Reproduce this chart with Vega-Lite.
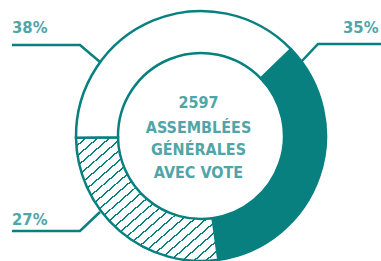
{
  "$schema": "https://vega.github.io/schema/vega-lite/v6.json",
  "width": 381,
  "height": 261,
  "autosize": {"type": "none"},
  "padding": 0,
  "background": "white",
  "config": {"view": {"stroke": null}},
  "datasets": {
    "parts": [
      {"label": "35%", "value": 35, "order": 1},
      {"label": "27%", "value": 27, "order": 2},
      {"label": "38%", "value": 38, "order": 3}
    ],
    "leaders": [
      {"label": "38%", "o": 1, "x": -1.512, "y": 0.728},
      {"label": "38%", "o": 2, "x": -0.968, "y": 0.728},
      {"label": "38%", "o": 3, "x": -0.808, "y": 0.592},
      {"label": "35%", "o": 1, "x": 1.46, "y": 0.736},
      {"label": "35%", "o": 2, "x": 0.936, "y": 0.736},
      {"label": "35%", "o": 3, "x": 0.8, "y": 0.592},
      {"label": "27%", "o": 1, "x": -1.512, "y": -0.76},
      {"label": "27%", "o": 2, "x": -0.968, "y": -0.76},
      {"label": "27%", "o": 3, "x": -0.808, "y": -0.608}
    ],
    "labels": [
      {"text": "38%", "x": -1.512, "y": 0.824, "a": "left"},
      {"text": "35%", "x": 1.42, "y": 0.824, "a": "right"},
      {"text": "27%", "x": -1.512, "y": -0.712, "a": "left"}
    ],
    "center": [
      {"text": "2597", "x": -0.02, "y": 0.224},
      {"text": "ASSEMBLÉES", "x": -0.02, "y": 0.024},
      {"text": "GÉNÉRALES", "x": -0.02, "y": -0.152},
      {"text": "AVEC VOTE", "x": -0.02, "y": -0.336}
    ]
  },
  "layer": [
    {
      "data": {"name": "parts"},
      "transform": [
        {"stack": "value", "groupby": [], "sort": [{"field": "order"}], "as": ["v0", "v1"]},
        {"filter": "datum.order === 1"}
      ],
      "mark": {"type": "arc", "outerRadius": 125, "innerRadius": 83, "fill": "#08807f", "stroke": "#08807f", "strokeWidth": 2.5},
      "encoding": {
        "theta": {"field": "v0", "type": "quantitative", "scale": {"domain": [0, 100], "range": [0.803, 7.086]}},
        "theta2": {"field": "v1"},
        "x": {"datum": 0, "type": "quantitative", "scale": {"domain": [-1.608, 1.44], "nice": false, "zero": false}, "axis": null},
        "y": {"datum": 0, "type": "quantitative", "scale": {"domain": [-1.0, 1.088], "nice": false, "zero": false}, "axis": null}
      }
    },
    {
      "data": {"name": "parts"},
      "transform": [
        {"stack": "value", "groupby": [], "sort": [{"field": "order"}], "as": ["v0", "v1"]},
        {"filter": "datum.order === 2"}
      ],
      "mark": {
        "type": "arc", "outerRadius": 125, "innerRadius": 83, "stroke": "#08807f", "strokeWidth": 2.5,
        "fill": {
          "gradient": "linear", "x1": 0, "y1": 0, "x2": 1, "y2": 1,
          "stops": [
            {"offset": 0, "color": "white"}, {"offset": 0.0342, "color": "white"}, {"offset": 0.0342, "color": "#08807f"}, {"offset": 0.0417, "color": "#08807f"},
            {"offset": 0.0417, "color": "white"}, {"offset": 0.0758, "color": "white"}, {"offset": 0.0758, "color": "#08807f"}, {"offset": 0.0833, "color": "#08807f"},
            {"offset": 0.0833, "color": "white"}, {"offset": 0.1175, "color": "white"}, {"offset": 0.1175, "color": "#08807f"}, {"offset": 0.125, "color": "#08807f"},
            {"offset": 0.125, "color": "white"}, {"offset": 0.1592, "color": "white"}, {"offset": 0.1592, "color": "#08807f"}, {"offset": 0.1667, "color": "#08807f"},
            {"offset": 0.1667, "color": "white"}, {"offset": 0.2008, "color": "white"}, {"offset": 0.2008, "color": "#08807f"}, {"offset": 0.2083, "color": "#08807f"},
            {"offset": 0.2083, "color": "white"}, {"offset": 0.2425, "color": "white"}, {"offset": 0.2425, "color": "#08807f"}, {"offset": 0.25, "color": "#08807f"},
            {"offset": 0.25, "color": "white"}, {"offset": 0.2842, "color": "white"}, {"offset": 0.2842, "color": "#08807f"}, {"offset": 0.2917, "color": "#08807f"},
            {"offset": 0.2917, "color": "white"}, {"offset": 0.3258, "color": "white"}, {"offset": 0.3258, "color": "#08807f"}, {"offset": 0.3333, "color": "#08807f"},
            {"offset": 0.3333, "color": "white"}, {"offset": 0.3675, "color": "white"}, {"offset": 0.3675, "color": "#08807f"}, {"offset": 0.375, "color": "#08807f"},
            {"offset": 0.375, "color": "white"}, {"offset": 0.4092, "color": "white"}, {"offset": 0.4092, "color": "#08807f"}, {"offset": 0.4167, "color": "#08807f"},
            {"offset": 0.4167, "color": "white"}, {"offset": 0.4508, "color": "white"}, {"offset": 0.4508, "color": "#08807f"}, {"offset": 0.4583, "color": "#08807f"},
            {"offset": 0.4583, "color": "white"}, {"offset": 0.4925, "color": "white"}, {"offset": 0.4925, "color": "#08807f"}, {"offset": 0.5, "color": "#08807f"},
            {"offset": 0.5, "color": "white"}, {"offset": 0.5342, "color": "white"}, {"offset": 0.5342, "color": "#08807f"}, {"offset": 0.5417, "color": "#08807f"},
            {"offset": 0.5417, "color": "white"}, {"offset": 0.5758, "color": "white"}, {"offset": 0.5758, "color": "#08807f"}, {"offset": 0.5833, "color": "#08807f"},
            {"offset": 0.5833, "color": "white"}, {"offset": 0.6175, "color": "white"}, {"offset": 0.6175, "color": "#08807f"}, {"offset": 0.625, "color": "#08807f"},
            {"offset": 0.625, "color": "white"}, {"offset": 0.6592, "color": "white"}, {"offset": 0.6592, "color": "#08807f"}, {"offset": 0.6667, "color": "#08807f"},
            {"offset": 0.6667, "color": "white"}, {"offset": 0.7008, "color": "white"}, {"offset": 0.7008, "color": "#08807f"}, {"offset": 0.7083, "color": "#08807f"},
            {"offset": 0.7083, "color": "white"}, {"offset": 0.7425, "color": "white"}, {"offset": 0.7425, "color": "#08807f"}, {"offset": 0.75, "color": "#08807f"},
            {"offset": 0.75, "color": "white"}, {"offset": 0.7842, "color": "white"}, {"offset": 0.7842, "color": "#08807f"}, {"offset": 0.7917, "color": "#08807f"},
            {"offset": 0.7917, "color": "white"}, {"offset": 0.8258, "color": "white"}, {"offset": 0.8258, "color": "#08807f"}, {"offset": 0.8333, "color": "#08807f"},
            {"offset": 0.8333, "color": "white"}, {"offset": 0.8675, "color": "white"}, {"offset": 0.8675, "color": "#08807f"}, {"offset": 0.875, "color": "#08807f"},
            {"offset": 0.875, "color": "white"}, {"offset": 0.9092, "color": "white"}, {"offset": 0.9092, "color": "#08807f"}, {"offset": 0.9167, "color": "#08807f"},
            {"offset": 0.9167, "color": "white"}, {"offset": 0.9508, "color": "white"}, {"offset": 0.9508, "color": "#08807f"}, {"offset": 0.9583, "color": "#08807f"},
            {"offset": 0.9583, "color": "white"}, {"offset": 0.9925, "color": "white"}, {"offset": 0.9925, "color": "#08807f"}, {"offset": 1, "color": "#08807f"}
          ]
        }
      },
      "encoding": {
        "theta": {"field": "v0", "type": "quantitative", "scale": {"domain": [0, 100], "range": [0.803, 7.086]}},
        "theta2": {"field": "v1"},
        "x": {"datum": 0, "type": "quantitative"},
        "y": {"datum": 0, "type": "quantitative"}
      }
    },
    {
      "data": {"name": "parts"},
      "transform": [
        {"stack": "value", "groupby": [], "sort": [{"field": "order"}], "as": ["v0", "v1"]},
        {"filter": "datum.order === 3"}
      ],
      "mark": {"type": "arc", "outerRadius": 125, "innerRadius": 83, "fill": "white", "stroke": "#08807f", "strokeWidth": 2.5},
      "encoding": {
        "theta": {"field": "v0", "type": "quantitative", "scale": {"domain": [0, 100], "range": [0.803, 7.086]}},
        "theta2": {"field": "v1"},
        "x": {"datum": 0, "type": "quantitative"},
        "y": {"datum": 0, "type": "quantitative"}
      }
    },
    {
      "data": {"name": "leaders"},
      "mark": {"type": "line", "color": "#08807f", "strokeWidth": 2.5},
      "encoding": {
        "x": {"field": "x", "type": "quantitative"},
        "y": {"field": "y", "type": "quantitative"},
        "detail": {"field": "label"},
        "order": {"field": "o"}
      }
    },
    {
      "data": {"name": "labels"},
      "transform": [{"filter": "datum.a === 'left'"}],
      "mark": {"type": "text", "align": "left", "baseline": "alphabetic", "font": "DejaVu Sans Condensed, sans-serif", "fontWeight": "bold", "fontSize": 16.5, "color": "#4fa5a8"},
      "encoding": {
        "x": {"field": "x", "type": "quantitative"},
        "y": {"field": "y", "type": "quantitative"},
        "text": {"field": "text"}
      }
    },
    {
      "data": {"name": "labels"},
      "transform": [{"filter": "datum.a === 'right'"}],
      "mark": {"type": "text", "align": "right", "baseline": "alphabetic", "font": "DejaVu Sans Condensed, sans-serif", "fontWeight": "bold", "fontSize": 16.5, "color": "#4fa5a8"},
      "encoding": {
        "x": {"field": "x", "type": "quantitative"},
        "y": {"field": "y", "type": "quantitative"},
        "text": {"field": "text"}
      }
    },
    {
      "data": {"name": "center"},
      "mark": {"type": "text", "align": "center", "baseline": "alphabetic", "font": "DejaVu Sans Condensed, sans-serif", "fontWeight": "bold", "fontSize": 16, "color": "#4fa5a8"},
      "encoding": {
        "x": {"field": "x", "type": "quantitative"},
        "y": {"field": "y", "type": "quantitative"},
        "text": {"field": "text"}
      }
    }
  ]
}
